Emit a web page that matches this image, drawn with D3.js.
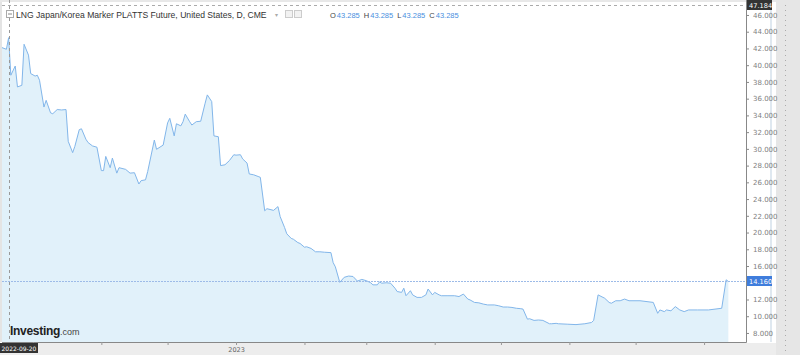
<!DOCTYPE html>
<html lang="en">
<head>
<meta charset="UTF-8">
<title>LNG Japan/Korea Marker PLATTS Future</title>
<script src="https://cdnjs.cloudflare.com/ajax/libs/d3/7.8.5/d3.min.js"></script>
<style>
  body { margin: 0; background: #fff; }
  svg { display: block; font-family: "Liberation Sans", Arial, sans-serif; }
</style>
</head>
<body>
<svg id="chart"></svg>
<script>
// daily settlement prices
var dates = [
  "2022-09-17","2022-09-19","2022-09-20","2022-09-21","2022-09-23","2022-09-24","2022-09-26","2022-09-27",
  "2022-09-29","2022-09-30","2022-10-02","2022-10-03","2022-10-04","2022-10-06","2022-10-07","2022-10-09",
  "2022-10-10","2022-10-12","2022-10-14","2022-10-16","2022-10-17","2022-10-19","2022-10-20","2022-10-22",
  "2022-10-23","2022-10-25","2022-10-26","2022-10-28","2022-10-30","2022-11-01","2022-11-02","2022-11-03",
  "2022-11-05","2022-11-06","2022-11-08","2022-11-09","2022-11-12","2022-11-14","2022-11-16","2022-11-18",
  "2022-11-19","2022-11-21","2022-11-22","2022-11-25","2022-11-26","2022-11-29","2022-12-01","2022-12-02",
  "2022-12-04","2022-12-05","2022-12-07","2022-12-08","2022-12-09","2022-12-11","2022-12-12","2022-12-14",
  "2022-12-16","2022-12-18","2022-12-19","2022-12-21","2022-12-22","2022-12-24","2022-12-25","2022-12-27",
  "2022-12-29","2022-12-31","2023-01-01","2023-01-03","2023-01-04","2023-01-06","2023-01-07","2023-01-09",
  "2023-01-11","2023-01-12","2023-01-14","2023-01-15","2023-01-18","2023-01-20","2023-01-21","2023-01-23",
  "2023-01-24","2023-01-26","2023-01-27","2023-01-29","2023-01-30","2023-02-01","2023-02-02","2023-02-04",
  "2023-02-06","2023-02-08","2023-02-10","2023-02-13","2023-02-14","2023-02-15","2023-02-17","2023-02-19",
  "2023-02-21","2023-02-23","2023-02-25","2023-02-27","2023-03-01","2023-03-03","2023-03-04","2023-03-06",
  "2023-03-07","2023-03-08","2023-03-10","2023-03-12","2023-03-14","2023-03-15","2023-03-17","2023-03-18",
  "2023-03-19","2023-03-21","2023-03-22","2023-03-24","2023-03-26","2023-03-28","2023-03-29","2023-03-31",
  "2023-04-01","2023-04-03","2023-04-04","2023-04-07","2023-04-10","2023-04-12","2023-04-14","2023-04-16",
  "2023-04-17","2023-04-19","2023-04-21","2023-04-23","2023-04-25","2023-04-28","2023-04-30","2023-05-02",
  "2023-05-04","2023-05-06","2023-05-08","2023-05-10","2023-05-11","2023-05-13","2023-05-14","2023-05-16",
  "2023-05-18","2023-05-20","2023-05-23","2023-05-24","2023-05-26","2023-05-27","2023-05-31","2023-06-04",
  "2023-06-08","2023-06-11","2023-06-12","2023-06-14","2023-06-17","2023-06-19","2023-06-20","2023-06-22",
  "2023-06-24","2023-06-26","2023-06-28","2023-07-03","2023-07-09","2023-07-11","2023-07-12","2023-07-14",
  "2023-07-15","2023-07-17","2023-07-19","2023-07-21","2023-07-23","2023-07-25","2023-07-29","2023-08-03",
  "2023-08-09","2023-08-11","2023-08-12"
];
var prices = [
  42.1,41.9,43.285,38.8,39.9,37.4,37.6,42.5,
  41.2,39.0,38.7,38.8,38.2,35.0,35.8,34.3,
  34.2,34.7,34.65,34.7,30.9,29.55,30.3,32.3,
  32.4,31.15,30.75,30.35,30.2,27.4,27.4,29.1,
  27.75,28.9,27.1,27.75,27.55,27.1,27.15,25.8,
  26.2,26.3,27.3,31.05,29.95,30.45,33.1,33.65,
  31.55,33.0,32.75,33.25,34.15,33.25,32.85,33.25,
  33.3,35.45,36.45,35.65,31.55,31.45,28.0,28.1,
  28.6,29.3,29.25,29.3,28.8,28.3,27.0,26.9,
  26.7,26.6,22.6,22.85,22.65,23.1,21.9,20.6,
  19.85,19.3,19.2,18.8,18.7,18.25,18.3,18.1,
  17.7,17.7,17.65,17.6,16.4,15.9,14.05,14.65,
  14.8,14.75,14.2,14.4,14.25,14.0,13.75,13.75,
  14.1,13.95,14.0,13.95,13.35,12.95,12.85,13.35,
  12.45,13.05,12.55,12.25,12.25,12.55,13.25,12.55,
  12.85,12.55,12.45,12.45,12.45,12.35,12.65,12.05,
  11.95,11.65,11.6,11.45,11.35,11.35,11.25,11.1,
  11.1,11.05,10.95,10.9,10.85,9.65,9.7,9.5,
  9.55,9.5,9.1,9.1,9.15,9.1,9.05,9.0,
  9.1,9.25,9.5,12.55,12.15,11.65,11.55,11.85,
  11.85,12.05,11.85,11.85,11.65,10.35,10.75,10.55,
  10.75,10.65,11.15,10.75,10.55,10.75,10.75,10.75,
  10.95,14.35,14.16
];
var yTicks = [8,10,12,14,16,18,20,22,24,26,28,30,32,34,36,38,40,42,44,46];
var xTickMonths = ["2022-10-01","2022-11-01","2022-12-01","2023-01-01","2023-02-01","2023-03-01",
  "2023-04-01","2023-05-01","2023-06-01","2023-07-01","2023-08-01"];
var xLabels = {"2023-01-01": "2023"};
var title = "LNG Japan/Korea Marker PLATTS Future, United States, D, CME";
var ohlc = [["O","43.285"],["H","43.285"],["L","43.285"],["C","43.285"]];
var lastPrice = 14.160;
var crossDate = "2022-09-20", crossPrice = 47.184;

var W = 800, H = 355;
var plotL = 2, plotR = 746, plotT = 0, plotB = 342;
var mono = "'DejaVu Sans', sans-serif";
var parse = d3.utcParse("%Y-%m-%d");
var data = dates.map(function(d, i) { return {date: parse(d), value: prices[i]}; });

var svg = d3.select("#chart").attr("width", W).attr("height", H);

var x = d3.scaleUtc()
  .domain([parse("2022-09-17"), parse("2023-08-20")])
  .range([plotL, plotR]);
var y = d3.scaleLinear()
  .domain([6.92, 47.79])
  .range([plotB, plotT]);

// outer frame pieces
svg.append("rect").attr("x", 0).attr("y", 0).attr("width", W).attr("height", H).attr("fill", "#fff");
svg.append("rect").attr("x", 0).attr("y", plotB + 1).attr("width", W).attr("height", H - plotB).attr("fill", "#ededed");
svg.append("rect").attr("x", 0).attr("y", 0).attr("width", 2).attr("height", plotB).attr("fill", "#e4e4e4");
svg.append("rect").attr("x", 0).attr("y", 0).attr("width", W).attr("height", 2).attr("fill", "#e8e8e8");
svg.append("rect").attr("x", 776).attr("y", 0).attr("width", 24).attr("height", H).attr("fill", "#e6e6e6");
svg.append("rect").attr("x", 770).attr("y", 0).attr("width", 2).attr("height", plotB).attr("fill", "#dfe8f0");

// area + line
svg.append("defs").append("clipPath").attr("id", "clip")
  .append("rect").attr("x", plotL).attr("y", plotT).attr("width", plotR - plotL).attr("height", plotB - plotT);

var g = svg.append("g").attr("clip-path", "url(#clip)");
g.append("path").datum(data)
  .attr("fill", "#e1f1fa")
  .attr("d", d3.area().x(function(d) { return x(d.date); }).y0(plotB).y1(function(d) { return y(d.value); }));
g.append("path").datum(data)
  .attr("fill", "none")
  .attr("stroke", "#82b6ea")
  .attr("stroke-width", 1)
  .attr("d", d3.line().x(function(d) { return x(d.date); }).y(function(d) { return y(d.value); }));

// last price line
svg.append("line")
  .attr("x1", plotL).attr("x2", plotR)
  .attr("y1", Math.round(y(lastPrice)) + 0.5).attr("y2", Math.round(y(lastPrice)) + 0.5)
  .attr("stroke", "#9dbbe8").attr("stroke-dasharray", "2,1");

// crosshair
svg.append("line")
  .attr("x1", Math.round(x(parse(crossDate))) + 0.5).attr("x2", Math.round(x(parse(crossDate))) + 0.5)
  .attr("y1", plotT).attr("y2", plotB)
  .attr("stroke", "#999").attr("stroke-dasharray", "3,3");
svg.append("line")
  .attr("x1", plotL).attr("x2", plotR)
  .attr("y1", Math.round(y(crossPrice)) + 0.5).attr("y2", Math.round(y(crossPrice)) + 0.5)
  .attr("stroke", "#aaa").attr("stroke-dasharray", "3,3");

// right axis (the label under the last-price tag is hidden, as on the site)
var yAxis = svg.append("g").attr("transform", "translate(" + plotR + ",0)")
  .call(d3.axisRight(y).tickValues(yTicks).tickSize(3).tickPadding(4).tickFormat(d3.format(".3f")));
yAxis.select(".domain").attr("stroke", "#888").attr("d", "M0.5," + plotT + "V" + (plotB + 0.5));
yAxis.selectAll(".tick line").attr("stroke", "#888");
yAxis.selectAll("text").attr("fill", "#808080").attr("font-size", "7px").attr("font-family", mono);
yAxis.selectAll(".tick").filter(function(d) { return Math.abs(d - lastPrice) < 1; })
  .select("text").remove();

// bottom axis
var xAxis = svg.append("g").attr("transform", "translate(0," + plotB + ")")
  .call(d3.axisBottom(x).tickValues(xTickMonths.map(parse)).tickSize(3).tickPadding(2)
    .tickFormat(function(d) { return xLabels[d3.utcFormat("%Y-%m-%d")(d)] || ""; }));
xAxis.select(".domain").attr("stroke", "#888").attr("d", "M" + plotL + ",0.5H" + (plotR + 0.5));
xAxis.selectAll(".tick line").attr("stroke", "#999");
xAxis.selectAll("text").attr("fill", "#666").attr("font-size", "6.5px").attr("font-family", mono);

// value labels on axes
function tag(yv, txt, bg) {
  var ty = Math.round(y(yv));
  svg.append("rect").attr("x", plotR + 1).attr("y", ty - 5).attr("width", 25).attr("height", 10).attr("fill", bg);
  svg.append("text").attr("x", plotR + 3).attr("y", ty + 3).attr("fill", "#fff")
    .attr("font-size", "6.6px").attr("font-family", mono).text(txt);
}
tag(lastPrice, d3.format(".3f")(lastPrice), "#3f7ddc");
tag(crossPrice, d3.format(".3f")(crossPrice), "#333");

svg.append("rect").attr("x", 0).attr("y", plotB + 1).attr("width", 38).attr("height", 10).attr("fill", "#333");
svg.append("text").attr("x", 1.5).attr("y", plotB + 9).attr("fill", "#fff")
  .attr("font-size", "6px").attr("font-family", mono).text(crossDate);

// right ruler strip
svg.append("line").attr("x1", 785.5).attr("x2", 785.5).attr("y1", 5).attr("y2", H)
  .attr("stroke", "#aaa").attr("stroke-dasharray", "1,4");

// header
svg.append("rect").attr("x", 6.5).attr("y", 10.5).attr("width", 7).attr("height", 7)
  .attr("fill", "#fff").attr("stroke", "#aaa");
svg.append("line").attr("x1", 8).attr("x2", 12).attr("y1", 14).attr("y2", 14).attr("stroke", "#888");
svg.append("text").attr("x", 16).attr("y", 18).attr("fill", "#333").attr("font-size", "8.6px").text(title);
svg.append("text").attr("x", 275).attr("y", 17).attr("fill", "#aaa").attr("font-size", "6px").text("▾");
[285, 294].forEach(function(bx) {
  svg.append("rect").attr("x", bx + 0.5).attr("y", 10.5).attr("width", 7).attr("height", 7)
    .attr("fill", "#f2f2f2").attr("stroke", "#ccc");
});
var hdr = svg.append("text").attr("x", 330).attr("y", 18).attr("font-size", "7.5px");
ohlc.forEach(function(p, i) {
  hdr.append("tspan").attr("fill", "#444").attr("dx", i ? 4 : 0).text(p[0]);
  hdr.append("tspan").attr("fill", "#4a8fe0").attr("dx", 1).text(p[1]);
});

// logo
var logo = svg.append("text").attr("x", 10).attr("y", 335);
logo.append("tspan").attr("font-size", "12px").attr("font-weight", "bold").attr("fill", "#222")
  .attr("letter-spacing", "-0.3px").text("Investing");
logo.append("tspan").attr("font-size", "9px").attr("fill", "#444").text(".com");
</script>
</body>
</html>
